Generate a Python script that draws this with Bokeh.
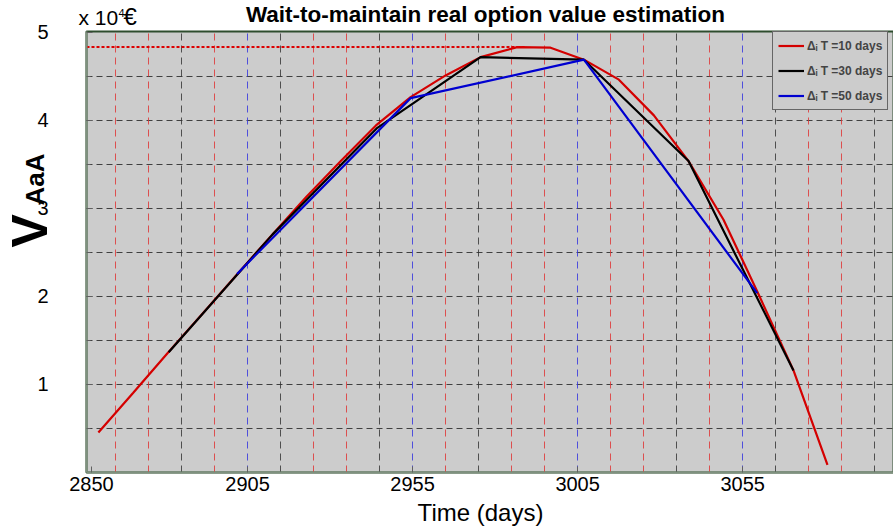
from math import pi
from bokeh.plotting import figure
from bokeh.models import (Range1d, FixedTicker, Grid, Label, Legend, LegendItem,
                          GlobalInlineStyleSheet)
from bokeh.embed import file_html
from bokeh.resources import INLINE

# ---------------- data ----------------
RED_X = [2859.8, 2870.3, 2880.8, 2891.4, 2901.8, 2912.4, 2922.9, 2933.4, 2943.9, 2954.4,
         2965.0, 2975.6, 2986.7, 2996.8, 3006.9, 3017.5, 3028.1, 3038.6, 3049.2, 3059.7,
         3070.4, 3080.7]
RED_Y = [0.455, 0.903, 1.358, 1.807, 2.250, 2.699, 3.136, 3.545, 3.943, 4.265,
         4.511, 4.719, 4.833, 4.826, 4.690, 4.463, 4.057, 3.538, 2.872, 2.034,
         1.159, 0.088]

BLACK_X = [2881.1, 2912.6, 2944.1, 2975.6, 3006.9, 3038.6, 3070.4]
BLACK_Y = [1.367, 2.705, 3.909, 4.719, 4.690, 3.538, 1.159]

BLUE_X = [2901.8, 2954.4, 3006.9, 3059.4]
BLUE_Y = [2.256, 4.253, 4.690, 2.038]

PEAK_LINE_END = 2989.0

SERIES_LABELS = ["\u0394\u1d62 T =10 days", "\u0394\u1d62 T =30 days", "\u0394\u1d62 T =50 days"]

X_START, X_END = 2856.2, 3100.7
Y_START, Y_END = 0.0, 5.01

XTICK_POS = [2857.7, 2905, 2955, 3005, 3055]
XTICK_LABELS = ["2850", "2905", "2955", "3005", "3055"]
YTICKS = [1, 2, 3, 4, 5]
HGRID = [0.5, 1.0, 1.5, 2.0, 2.5, 3.0, 3.5, 4.0, 4.5]

VGRID_RED = [2865, 2875, 2895, 2925, 2935, 2965, 2985, 2995, 3015, 3025, 3045, 3075, 3085]
VGRID_BLACK = [2885, 2915, 2945, 2975, 3035, 3065, 3095]
VGRID_BLUE = [2905, 2955, 3005, 3055]

FONT = "Liberation Sans"

# The free texts live in a wide right-hand panel that lies beyond the window,
# so that they are drawn without being clipped to the plot frame.
SPARE = 1000

# ---------------- figure ----------------
p = figure(width=893 + SPARE, height=526,
           x_range=Range1d(X_START, X_END), y_range=Range1d(Y_START, Y_END),
           output_backend="svg", toolbar_location=None,
           min_border_left=86, min_border_right=SPARE, min_border_top=31, min_border_bottom=54)
p.stylesheets = [GlobalInlineStyleSheet(css="html, body { overflow: hidden !important; }")]

p.background_fill_color = "#CCCCCC"
p.border_fill_color = "white"
p.outline_line_color = "#2E4D2E"
p.outline_line_width = 2

# grids
p.xgrid.visible = False
p.ygrid.ticker = FixedTicker(ticks=HGRID)
p.ygrid.grid_line_color = "#404040"
p.ygrid.grid_line_dash = "6 4"
p.ygrid.grid_line_width = 1

for ticks, col in ((VGRID_RED, "#E03030"), (VGRID_BLACK, "#303030"), (VGRID_BLUE, "#3030E0")):
    g = Grid(dimension=0, ticker=FixedTicker(ticks=ticks),
             grid_line_color=col, grid_line_dash="7 5", grid_line_width=1, grid_line_alpha=0.8)
    p.add_layout(g)

# axes
p.xaxis.ticker = FixedTicker(ticks=XTICK_POS)
p.xaxis.major_label_overrides = {pos: lab for pos, lab in zip(XTICK_POS, XTICK_LABELS)}
p.yaxis.ticker = FixedTicker(ticks=YTICKS, minor_ticks=HGRID)

for ax in (p.xaxis[0], p.yaxis[0]):
    ax.axis_line_color = "#7F917F"
    ax.axis_line_width = 2
    ax.major_tick_in = 6
    ax.major_tick_out = 0
    ax.minor_tick_in = 4
    ax.minor_tick_out = 0
    ax.major_tick_line_color = "#606060"
    ax.minor_tick_line_color = "#606060"
    ax.major_label_text_font = FONT
    ax.major_label_text_font_size = "20px"
    ax.major_label_text_color = "black"

p.xaxis.minor_tick_line_color = None
p.xaxis.major_label_standoff = 4
p.yaxis.major_label_standoff = 38

# ---------------- data lines ----------------
r_red = p.line(RED_X, RED_Y, line_color="#D40000", line_width=2.2)
r_black = p.line(BLACK_X, BLACK_Y, line_color="black", line_width=2.2)
r_blue = p.line(BLUE_X, BLUE_Y, line_color="#0000D0", line_width=2.2)
peak = max(RED_Y)
p.line([X_START, PEAK_LINE_END], [peak, peak], line_color="#DD0000", line_width=2, line_dash="3 2")

legend = Legend(items=[LegendItem(label=SERIES_LABELS[0], renderers=[r_red]),
                       LegendItem(label=SERIES_LABELS[1], renderers=[r_black]),
                       LegendItem(label=SERIES_LABELS[2], renderers=[r_blue])],
                location=(686, 362))
legend.background_fill_color = "#CCCCCC"
legend.background_fill_alpha = 1
legend.border_line_color = "black"
legend.border_line_width = 1
legend.label_text_font = FONT
legend.label_text_font_style = "bold"
legend.label_text_font_size = "12px"
legend.glyph_width = 26
legend.glyph_height = 17
legend.label_height = 17
legend.spacing = 8
legend.padding = 5
legend.margin = 0
legend.label_standoff = 3
p.add_layout(legend)

# ---------------- texts (canvas units, y down) ----------------
def lab(text, x, y, size, style="normal", align="left", angle=0.0):
    p.add_layout(Label(x=x, y=y, x_units="canvas", y_units="canvas", text=text,
                       text_font=FONT, text_font_size=size, text_font_style=style,
                       text_align=align, text_baseline="alphabetic", angle=angle,
                       text_color="black"), "right")

lab("Wait-to-maintain real option value estimation", 485, 14, "22.5px", "bold", "center")
lab("x 10", 78, 17.3, "21px")
lab("4", 118, 12.5, "11px")
lab("\u20ac", 123, 16.3, "24px")
lab("Time (days)", 480, 512, "24px", "normal", "center")
lab("V", 29, 247, "50px", "bold", "left", pi / 2)
lab("AaA", 34, 205, "26px", "bold", "left", pi / 2)

open("out.html", "w").write(file_html(p, INLINE))
